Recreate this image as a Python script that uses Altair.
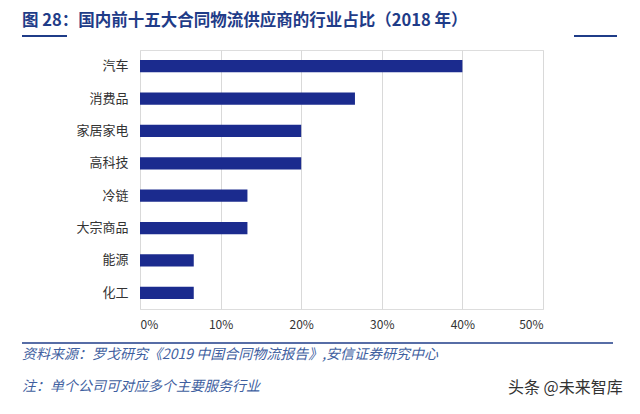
import altair as alt
import pandas as pd

categories = ["汽车", "消费品", "家居家电", "高科技", "冷链", "大宗商品", "能源", "化工"]
shares = [0.40, 0.2667, 0.20, 0.20, 0.1333, 0.1333, 0.0667, 0.0667]
tick_values = [0.0, 0.1, 0.2, 0.3, 0.4, 0.5]

title_text = "图 28：国内前十五大合同物流供应商的行业占比（2018 年）"
source_text = "资料来源：罗戈研究《2019 中国合同物流报告》,安信证券研究中心"
note_text = "注：单个公司可对应多个主要服务行业"
watermark_text = "头条 @未来智库"

df = pd.DataFrame({"category": categories, "share": shares})

FONT = "Noto Sans CJK SC"
W, H = 403, 259

bars = alt.Chart(df).mark_bar(color="#1b2b8e").encode(
    x=alt.X("share:Q",
            scale=alt.Scale(domain=[0, 0.5], nice=False),
            axis=alt.Axis(values=tick_values, format=".0%", title=None,
                          grid=True, gridColor="#d9d9d9", domain=False,
                          ticks=False, labelFontSize=12, labelColor="#333333",
                          labelPadding=10, labelFont=FONT)),
    y=alt.Y("category:N", sort=categories,
            scale=alt.Scale(paddingInner=0.62, paddingOuter=0.31),
            axis=alt.Axis(title=None, domain=False, ticks=False,
                          labelFontSize=13, labelColor="#333333",
                          labelPadding=12, labelFont=FONT)),
)

def txt(text, x, y, size, color, weight="normal", style="normal"):
    return alt.Chart(pd.DataFrame({"t": [text]})).mark_text(
        align="left", baseline="middle", fontSize=size, color=color,
        fontWeight=weight, fontStyle=style, font=FONT
    ).encode(x=alt.value(x), y=alt.value(y), text="t:N")

def hline(x1, x2, y, color, width):
    return alt.Chart(pd.DataFrame({"a": [0]})).mark_rule(
        color=color, strokeWidth=width
    ).encode(x=alt.value(x1), x2=alt.value(x2), y=alt.value(y))

title = txt(title_text, -118, -29, 16.5, "#1f3c88", weight="bold")
line_l = hline(-118, -73, -14, "#1f3c88", 2)
line_r = hline(434, 477, -14, "#1f3c88", 2)
foot_line = hline(-118, 473, 293, "#1f3c88", 1.5)
source = txt(source_text, -118, 305, 14, "#3f5f9f", style="italic")
note = txt(note_text, -118, 337, 14, "#3f5f9f", style="italic")
wm = txt(watermark_text, 368, 338, 16, "#333333")

chart = alt.layer(bars, title, line_l, line_r, foot_line, source, note, wm).properties(
    width=W, height=H,
    autosize=alt.AutoSizeParams(type="none"),
    padding={"left": 132, "top": 42, "right": 88, "bottom": 90},
).configure_view(stroke=None).configure(background="white")

chart.save("out.html", embed_options={"renderer": "svg", "actions": False})
